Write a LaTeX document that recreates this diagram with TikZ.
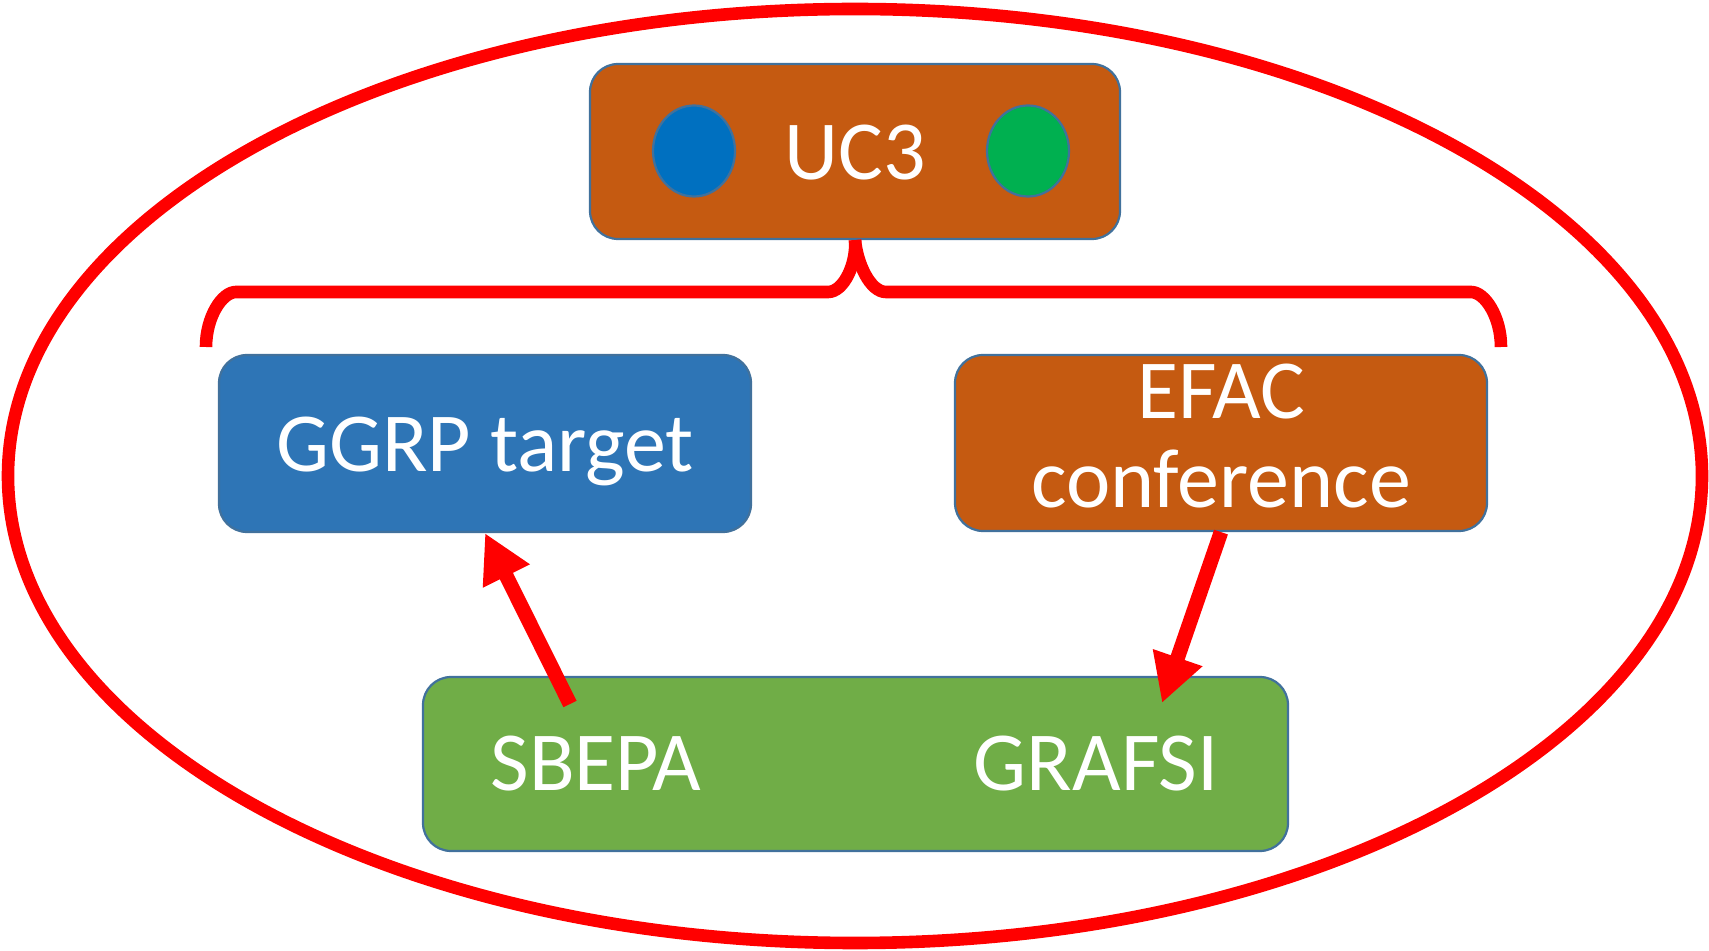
\documentclass[tikz,border=0pt]{standalone}
\usepackage{fontspec}
\setmainfont{Carlito}
\usetikzlibrary{arrows.meta,shapes.geometric}
\definecolor{boxorange}{HTML}{C55A11}
\definecolor{boxblue}{HTML}{2E75B6}
\definecolor{boxgreen}{HTML}{70AD47}
\definecolor{dotblue}{HTML}{0070C0}
\definecolor{dotgreen}{HTML}{00B050}
\definecolor{edgeblue}{HTML}{41719C}
\definecolor{pured}{HTML}{FF0000}
\tikzset{
  box/.style={draw=edgeblue, line width=1.1pt, rounded corners=14pt, inner sep=0pt},
  dot/.style={ellipse, draw=edgeblue, line width=1.1pt, inner sep=0pt, minimum width=41pt, minimum height=45.5pt},
  lbl/.style={text=white, inner sep=0pt, anchor=base, font=\fontsize{42}{44}\selectfont},
  redline/.style={draw=pured, line width=6.3pt},
  bigarrow/.style={draw=pured, line width=7.3pt, -{Triangle[length=24pt,width=24.5pt]}},
}
\begin{document}
\begin{tikzpicture}[x=0.5pt,y=-0.5pt]
\useasboundingbox (0,0) rectangle (1709,951);
% outer ellipse
\draw[redline] (855,476) ellipse [x radius=847, y radius=467];
% boxes
\node[box, fill=boxorange, minimum width=265pt, minimum height=87.5pt] (uc3) at (855,151.5) {};
\node[box, fill=boxblue, minimum width=266pt, minimum height=88.5pt] (ggrp) at (485,443.5) {};
\node[box, fill=boxorange, minimum width=266pt, minimum height=88pt] (efac) at (1221,443) {};
\node[box, fill=boxgreen, minimum width=432.5pt, minimum height=87pt] (grn) at (855.5,764) {};
% dots
\node[dot, fill=dotblue] (bdot) at (694,151) {};
\node[dot, fill=dotgreen] (gdot) at (1028,151) {};
% labels
\node[lbl] (tuc3) at (855,180) {UC3};
\node[lbl] (tggrp) at (485,472) {GGRP target};
\node[lbl] (tefac) at (1221,418.5) {EFAC};
\node[lbl] (tconf) at (1221,508) {conference};
\node[lbl] (tsbepa) at (596,791) {SBEPA};
\node[lbl] (tgrafsi) at (1096,791) {GRAFSI};
% brace
\draw[redline] (206,347) .. controls (206,317) and (222,292) .. (236,292) -- (828,292)
  .. controls (844,292) and (857,263) .. (uc3.south);
\draw[redline] (1501,347) .. controls (1501,317) and (1485,292) .. (1471,292) -- (886,292)
  .. controls (870,292) and (857,263) .. (uc3.south);
% arrows
\coordinate (a1tail) at (570,704);
\coordinate (a2tip) at (1162,703);
\draw[bigarrow] (a1tail) -- (ggrp.south);
\draw[bigarrow] (efac.south) -- (a2tip);
\end{tikzpicture}
\end{document}
